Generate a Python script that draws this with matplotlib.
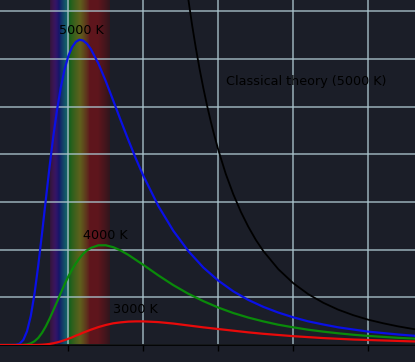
import numpy as np
import matplotlib
matplotlib.use('Agg')
import matplotlib.pyplot as plt

# wavelength samples (um) and spectral radiance (kW/sr/m^2/nm)
wavelength = [0.04, 0.10, 0.15, 0.175, 0.20, 0.225, 0.25, 0.275, 0.30, 0.325, 0.35, 0.375,
              0.40, 0.425, 0.45, 0.475, 0.50, 0.525, 0.55, 0.575, 0.60, 0.625, 0.65, 0.70,
              0.75, 0.80, 0.85, 0.90, 0.95, 1.00, 1.10, 1.20, 1.30, 1.40, 1.50, 1.60, 1.70,
              1.80, 1.90, 2.00, 2.10, 2.20, 2.30, 2.40, 2.50, 2.60, 2.70, 2.80, 2.90, 3.00]
radiance_5000 = [0, 0, 0.007, 0.052, 0.21, 0.58, 1.22, 2.16, 3.35, 4.69, 6.09, 7.47,
                 8.74, 9.86, 10.80, 11.55, 12.11, 12.49, 12.71, 12.80, 12.76, 12.63, 12.41, 11.81,
                 11.06, 10.24, 9.41, 8.60, 7.82, 7.10, 5.83, 4.79, 3.94, 3.25, 2.70, 2.25, 1.89,
                 1.60, 1.36, 1.16, 0.99, 0.86, 0.74, 0.65, 0.56, 0.50, 0.44, 0.39, 0.34, 0.30]
radiance_4000 = [0, 0, 0, 0.001, 0.006, 0.024, 0.069, 0.158, 0.30, 0.51, 0.78, 1.10,
                 1.45, 1.81, 2.18, 2.54, 2.87, 3.16, 3.42, 3.64, 3.83, 3.97, 4.07, 4.18,
                 4.18, 4.10, 3.96, 3.78, 3.57, 3.36, 2.92, 2.51, 2.15, 1.84, 1.57, 1.34, 1.15,
                 0.99, 0.85, 0.74, 0.64, 0.56, 0.49, 0.43, 0.38, 0.34, 0.30, 0.27, 0.24, 0.21]
radiance_3000 = [0, 0, 0, 0, 0, 0.0001, 0.0006, 0.002, 0.0056, 0.013, 0.025, 0.045,
                 0.072, 0.108, 0.152, 0.203, 0.26, 0.32, 0.39, 0.45, 0.52, 0.58, 0.64, 0.75,
                 0.84, 0.91, 0.95, 0.98, 0.99, 0.99, 0.96, 0.90, 0.82, 0.74, 0.67, 0.60, 0.53,
                 0.47, 0.42, 0.37, 0.33, 0.29, 0.26, 0.23, 0.21, 0.19, 0.17, 0.15, 0.14, 0.12]
# classical (Rayleigh-Jeans) curve at 5000 K
wavelength_classical = [1.20, 1.25, 1.30, 1.325, 1.35, 1.375, 1.40, 1.425, 1.45, 1.475, 1.50,
                        1.55, 1.60, 1.65, 1.70, 1.75, 1.80, 1.90, 2.00, 2.10, 2.20, 2.30,
                        2.40, 2.50, 2.60, 2.70, 2.80, 2.90, 3.00]
radiance_classical = [19.97, 16.96, 14.50, 13.43, 12.46, 11.58, 10.78, 10.04, 9.37, 8.75, 8.18,
                      7.17, 6.32, 5.59, 4.96, 4.41, 3.94, 3.18, 2.59, 2.13, 1.77, 1.48,
                      1.25, 1.06, 0.91, 0.78, 0.67, 0.585, 0.51]
curve_labels = ['5000 K', '4000 K', '3000 K']
xticks = [0.5, 1.0, 1.5, 2.0, 2.5]
yticks = [0, 2, 4, 6, 8, 10, 12, 14]

bg = '#1b1e28'


# visible spectrum colour (style only)
def spectrum_rgb(wl):
    if wl < 0.44:
        r, g, b = -(wl - 0.44) / (0.44 - 0.38), 0.0, 1.0
    elif wl < 0.49:
        r, g, b = 0.0, (wl - 0.44) / (0.49 - 0.44), 1.0
    elif wl < 0.51:
        r, g, b = 0.0, 1.0, -(wl - 0.51) / (0.51 - 0.49)
    elif wl < 0.58:
        r, g, b = (wl - 0.51) / (0.58 - 0.51), 1.0, 0.0
    elif wl < 0.645:
        r, g, b = 1.0, -(wl - 0.645) / (0.645 - 0.58), 0.0
    else:
        r, g, b = 1.0, 0.0, 0.0
    if wl < 0.42:
        f = 0.3 + 0.7 * (wl - 0.38) / 0.04
    elif wl > 0.70:
        f = 0.3 + 0.7 * (0.78 - wl) / 0.08
    else:
        f = 1.0
    f = max(f, 0.0)
    return [(c * f) ** 0.8 for c in (r, g, b)]


fig = plt.figure(figsize=(4.15, 3.62), dpi=100, facecolor=bg)
# axes run past the figure edges, like the cropped original
ax = fig.add_axes([-6.7 / 415, 17 / 362, 450 / 415, 15 * 23.85 / 362])
ax.set_facecolor(bg)
ax.set_xlim(0, 3)
ax.set_ylim(0, 15)

# spectrum band
band = np.linspace(0.38, 0.78, 200)
img = np.array([[spectrum_rgb(w) for w in band]])
ax.imshow(img, extent=[0.38, 0.78, 0, 15], aspect='auto', alpha=0.3, zorder=0,
          interpolation='bilinear')

ax.set_xticks(xticks)
ax.set_yticks(yticks)
ax.tick_params(labelbottom=False, labelleft=False, length=4, color='black', width=1)
ax.grid(True, color='#a9c3cc', lw=1.3, alpha=0.75, zorder=1)
for s in ['top', 'right', 'left']:
    ax.spines[s].set_visible(False)
ax.spines['bottom'].set_color('black')
ax.spines['bottom'].set_linewidth(1.2)

ax.plot(wavelength, radiance_5000, color='#0a10e6', lw=1.6, zorder=3)
ax.plot(wavelength, radiance_4000, color='#0a8a0a', lw=1.6, zorder=3)
ax.plot(wavelength, radiance_3000, color='#e80a0a', lw=1.6, zorder=3)
ax.plot(wavelength_classical, radiance_classical, color='black', lw=1.3, zorder=3)

# labels
ax.text(0.59, 13.17, curve_labels[0], ha='center', va='center', fontsize=9.2, color='black', zorder=4)
ax.text(0.75, 4.58, curve_labels[1], ha='center', va='center', fontsize=9.2, color='black', zorder=4)
ax.text(0.95, 1.47, curve_labels[2], ha='center', va='center', fontsize=9.2, color='black', zorder=4)
ax.text(1.551, 11.04, 'Classical theory (5000 K)', ha='left', va='center', fontsize=9.2,
        color='black', zorder=4)

fig.savefig('out.png', dpi=100, facecolor=bg)
